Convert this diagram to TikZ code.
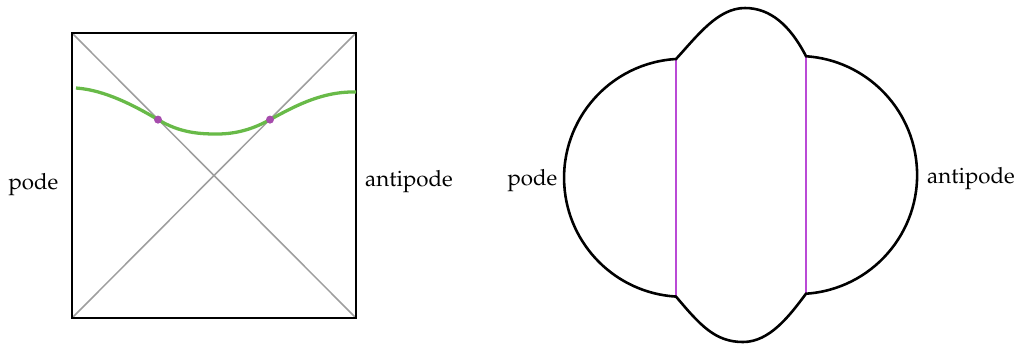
\documentclass[tikz,border=0pt]{standalone}
\usepackage[T1]{fontenc}
\usepackage{mathpazo}
\usetikzlibrary{positioning}
\definecolor{cgreen}{RGB}{104,186,72}
\definecolor{cdot}{RGB}{166,76,172}
\definecolor{cline}{RGB}{186,74,214}

\begin{document}
\begin{tikzpicture}[x=0.015cm,y=-0.015cm,font=\fontsize{9.5}{11}\selectfont,
  frame/.style={line width=1.1pt},
  diag/.style={black!38,line width=0.65pt},
  wave/.style={cgreen,line width=1.4pt},
  wall/.style={cline,line width=0.8pt}]
\useasboundingbox (0,0) rectangle (1016,343);
% left picture
\coordinate (sa) at (72,33);
\coordinate (sb) at (356,33);
\coordinate (sc) at (356,318);
\coordinate (sd) at (72,318);
\draw[diag] (sa) -- (sc) (sb) -- (sd);
\draw[frame] (sa) -- (sb) -- (sc) -- (sd) -- cycle;
\coordinate (ga) at (76,88);
\coordinate (da) at (158,119.6);
\coordinate (gm) at (217,134);
\coordinate (db) at (270,119.6);
\coordinate (gb) at (356,92);
\draw[wave] (ga) .. controls (105,90) and (135,106) .. (da)
  .. controls (180,133) and (200,134) .. (gm)
  .. controls (238,134) and (255,128) .. (db)
  .. controls (290,109) and (320,91) .. (gb);
\fill[cdot] (da) circle[radius=4] (db) circle[radius=4];
\node (lp) at (33.5,185) {pode};
\node (la) at (409,182) {antipode};
% right picture
\coordinate (ta) at (676,59);
\coordinate (tb) at (806,56.5);
\coordinate (ba) at (676,297.8);
\coordinate (bb) at (806,293.7);
\draw[wall] (ta) -- (ba) (tb) -- (bb);
\draw[frame] (ta) arc[start angle=266.6, end angle=93.4, radius=119]
  .. controls (700,325) and (715,342) .. (743,342)
  .. controls (770,342) and (790,315) .. (bb)
  arc[start angle=86.2, end angle=-86.2, radius=119]
  .. controls (790,25) and (770,8) .. (745,8)
  .. controls (718,8) and (698,35) .. (ta) -- cycle;
\node (rp) at (532.5,181) {pode};
\node (ra) at (971,179) {antipode};
\end{tikzpicture}
\end{document}
